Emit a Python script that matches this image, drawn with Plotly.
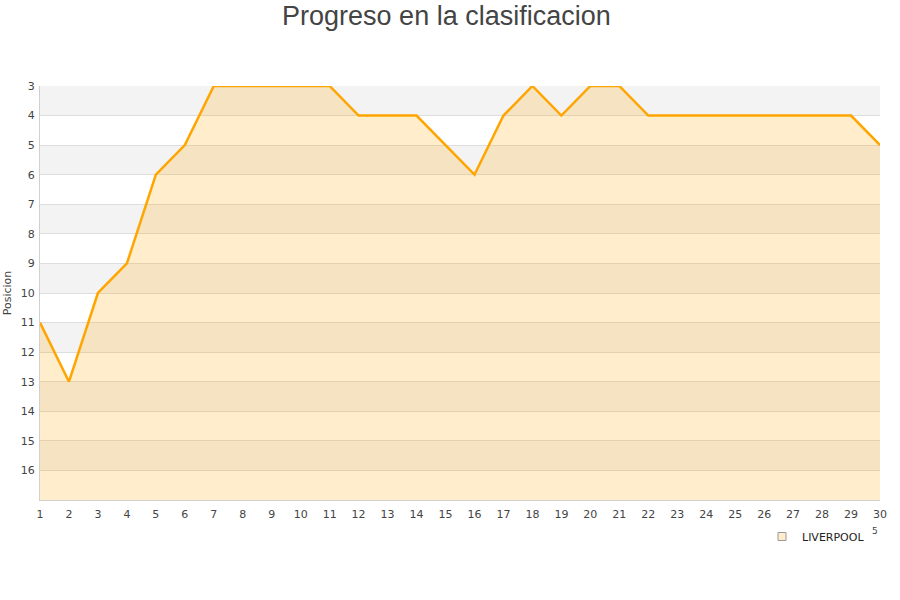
import plotly.graph_objects as go

jornadas = list(range(1, 31))
posiciones = [11, 13, 10, 9, 6, 5, 3, 3, 3, 3, 3, 4, 4, 4, 5, 6, 4, 3, 4, 3, 3, 4, 4, 4, 4, 4, 4, 4, 4, 5]
y_ticks = list(range(3, 17))
equipo = "LIVERPOOL"

fig = go.Figure()

# baseline for the fill
fig.add_trace(go.Scatter(x=jornadas, y=[17] * len(jornadas), mode="lines",
                         line=dict(width=0, color="rgba(0,0,0,0)"),
                         showlegend=False, hoverinfo="skip"))
fig.add_trace(go.Scatter(x=jornadas, y=posiciones, mode="lines", name=equipo,
                         fill="tonexty", fillcolor="rgba(255,165,0,0.2)",
                         line=dict(color="#FFA500", width=2.5), showlegend=False))
# legend entry with square swatch
fig.add_trace(go.Scatter(x=[None], y=[None], mode="markers", name=equipo,
                         marker=dict(symbol="square", size=8, color="#FFEDCC",
                                     line=dict(color="#999999", width=1))))

shapes = []
for k in range(3, 17, 2):
    shapes.append(dict(type="rect", xref="paper", yref="y", x0=0, x1=1, y0=k, y1=k + 1,
                       fillcolor="#F3F3F3", line=dict(width=0), layer="below"))

fig.update_layout(
    width=900, height=600,
    margin=dict(l=40, r=20, t=86, b=100, autoexpand=False),
    paper_bgcolor="white", plot_bgcolor="white",
    title=dict(text="Progreso en la clasificacion", x=0.496, xanchor="center", y=1 - 6 / 600, yanchor="top",
               font=dict(family="Liberation Sans, Arial", size=27, color="#444444")),
    font=dict(family="DejaVu Sans", size=11, color="#444444"),
    shapes=shapes,
    showlegend=True,
    legend=dict(orientation="h", x=(762 - 40) / 840, xanchor="left", y=(500 - 522) / 414, yanchor="top",
                font=dict(size=11, color="#222222"), bgcolor="rgba(0,0,0,0)"),
    xaxis=dict(range=[1, 30], tickmode="array", tickvals=jornadas, ticks="",
               showgrid=False, zeroline=False, showline=True, linecolor="#D0D0D0",
               automargin=False, ticklabelstandoff=4, tickfont=dict(size=11, color="#444444")),
    yaxis=dict(range=[17, 3], tickmode="array", tickvals=y_ticks, ticks="",
               showgrid=True, gridcolor="#DDDDDD", zeroline=False,
               showline=True, linecolor="#D0D0D0", automargin=False, ticklabelstandoff=2,
               title=dict(text="Posicion", font=dict(size=11, color="#444444"), standoff=6),
               tickfont=dict(size=11, color="#444444")),
    annotations=[dict(text="5", x=(875 - 40) / 840, y=(500 - 531) / 414, xref="paper", yref="paper",
                      showarrow=False, xanchor="center", yanchor="middle",
                      font=dict(size=9, color="#444444"))],
)

fig.write_html("out.html", config={"displayModeBar": False},
               post_script="document.body.style.margin='0';")
